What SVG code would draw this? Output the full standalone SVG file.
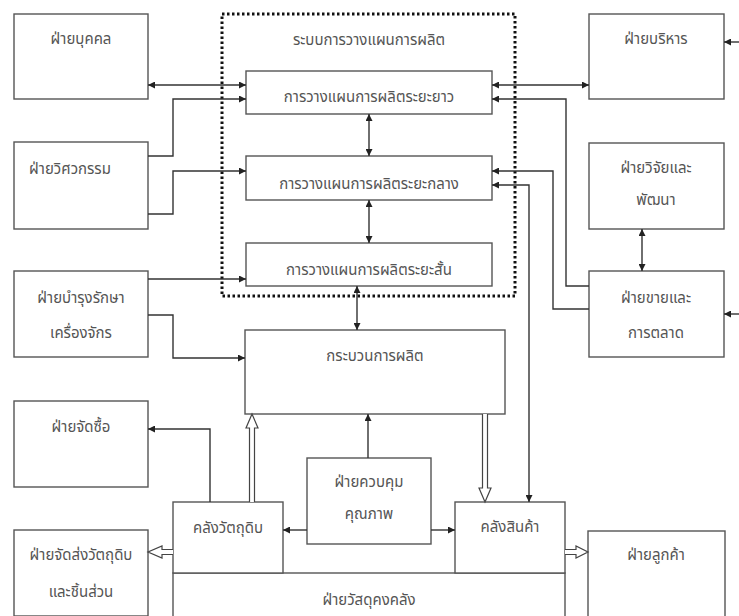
<svg xmlns="http://www.w3.org/2000/svg" width="739" height="616" viewBox="0 0 739 616">
<style>
.box{fill:#fff;stroke:#555;stroke-width:1.4}
.t{font-family:"Noto Sans Thai","Noto Sans","DejaVu Sans",sans-serif;font-size:15px;fill:#555;text-anchor:middle}
.c{fill:none;stroke:#333;stroke-width:1.4}
.h{fill:#fff;stroke:#444;stroke-width:1.2}
</style>
<defs>
<marker id="a" viewBox="0 0 10 10" refX="10" refY="5" markerWidth="7" markerHeight="7" orient="auto-start-reverse" markerUnits="userSpaceOnUse">
<path d="M0,0L10,5L0,10z" fill="#222"/>
</marker>
</defs>
<rect width="739" height="616" fill="#fff"/>
<g id="system">
<rect x="222" y="14" width="293" height="282" fill="none" stroke="#111" stroke-width="3" stroke-dasharray="2.5 2.5"/>
<text class="t" x="369" y="45">ระบบการวางแผนการผลิต</text>
</g>
<g id="longterm"><rect class="box" x="246" y="71" width="246" height="43"/><text class="t" x="369" y="102">การวางแผนการผลิตระยะยาว</text></g>
<g id="midterm"><rect class="box" x="246" y="156" width="246" height="44"/><text class="t" x="369" y="189">การวางแผนการผลิตระยะกลาง</text></g>
<g id="shortterm"><rect class="box" x="246" y="243" width="246" height="43"/><text class="t" x="369" y="275">การวางแผนการผลิตระยะสั้น</text></g>
<g id="personnel"><rect class="box" x="14" y="14" width="134" height="85"/><text class="t" x="81" y="44">ฝ่ายบุคคล</text></g>
<g id="engineering"><rect class="box" x="14" y="142" width="134" height="87"/><text class="t" x="70" y="174">ฝ่ายวิศวกรรม</text></g>
<g id="maintenance"><rect class="box" x="14" y="271" width="134" height="86"/><text class="t" x="81" y="303">ฝ่ายบำรุงรักษา</text><text class="t" x="81" y="338">เครื่องจักร</text></g>
<g id="purchasing"><rect class="box" x="14" y="401" width="134" height="86"/><text class="t" x="81" y="432">ฝ่ายจัดซื้อ</text></g>
<g id="delivery"><rect class="box" x="14" y="530" width="134" height="86"/><text class="t" x="81" y="560">ฝ่ายจัดส่งวัตถุดิบ</text><text class="t" x="81" y="597">และชิ้นส่วน</text></g>
<g id="admin"><rect class="box" x="589" y="14" width="135" height="85"/><text class="t" x="656" y="44">ฝ่ายบริหาร</text></g>
<g id="rnd"><rect class="box" x="589" y="143" width="135" height="86"/><text class="t" x="656" y="173">ฝ่ายวิจัยและ</text><text class="t" x="656" y="205">พัฒนา</text></g>
<g id="sales"><rect class="box" x="589" y="271" width="135" height="86"/><text class="t" x="656" y="303">ฝ่ายขายและ</text><text class="t" x="656" y="338">การตลาด</text></g>
<g id="production"><rect class="box" x="245" y="330" width="260" height="84"/><text class="t" x="375" y="361">กระบวนการผลิต</text></g>
<g id="inventory"><rect class="box" x="173" y="573" width="392" height="50"/><text class="t" x="369" y="605">ฝ่ายวัสดุคงคลัง</text></g>
<g id="rawstore"><rect class="box" x="173" y="502" width="110" height="71"/><text class="t" x="228" y="533">คลังวัตถุดิบ</text></g>
<g id="qc"><rect class="box" x="307" y="458" width="124" height="86"/><text class="t" x="369" y="487">ฝ่ายควบคุม</text><text class="t" x="369" y="519">คุณภาพ</text></g>
<g id="warehouse"><rect class="box" x="455" y="502" width="110" height="71"/><text class="t" x="510" y="532">คลังสินค้า</text></g>
<g id="customer"><rect class="box" x="588" y="531" width="137" height="90"/><text class="t" x="656" y="560">ฝ่ายลูกค้า</text></g>
<g id="connectors">
<path class="c" d="M148,85H246" marker-start="url(#a)" marker-end="url(#a)"/>
<path class="c" d="M148,156H173V99H246" marker-end="url(#a)"/>
<path class="c" d="M148,214H173V171H246" marker-end="url(#a)"/>
<path class="c" d="M148,279H246" marker-end="url(#a)"/>
<path class="c" d="M148,315H173V358H245" marker-end="url(#a)"/>
<path class="c" d="M369,114V156" marker-start="url(#a)" marker-end="url(#a)"/>
<path class="c" d="M369,200V243" marker-start="url(#a)" marker-end="url(#a)"/>
<path class="c" d="M357,286V330" marker-start="url(#a)" marker-end="url(#a)"/>
<path class="c" d="M492,85H589" marker-start="url(#a)" marker-end="url(#a)"/>
<path class="c" d="M589,286H566V99H492" marker-end="url(#a)"/>
<path class="c" d="M589,309H553V171H492" marker-end="url(#a)"/>
<path class="c" d="M529,502V185H492" marker-start="url(#a)" marker-end="url(#a)"/>
<path class="c" d="M642,229V271" marker-start="url(#a)" marker-end="url(#a)"/>
<path class="c" d="M739,42H724" marker-end="url(#a)"/>
<path class="c" d="M739,314H724" marker-end="url(#a)"/>
<path class="c" d="M210,502V429H148" marker-end="url(#a)"/>
<path class="c" d="M307,530H283" marker-end="url(#a)"/>
<path class="c" d="M431,530H455" marker-end="url(#a)"/>
<path class="c" d="M368,458V414" marker-end="url(#a)"/>
<path class="h" d="M249.5,502V428H246L252,414L258,428H254.5V502"/>
<path class="h" d="M482.5,414V488H479L485,502L491,488H487.5V414"/>
<path class="h" d="M173,549.5H162V546L148,552L162,558V554.5H173"/>
<path class="h" d="M565,549.5H576V546L588,552L576,558V554.5H565"/>
</g>
</svg>
